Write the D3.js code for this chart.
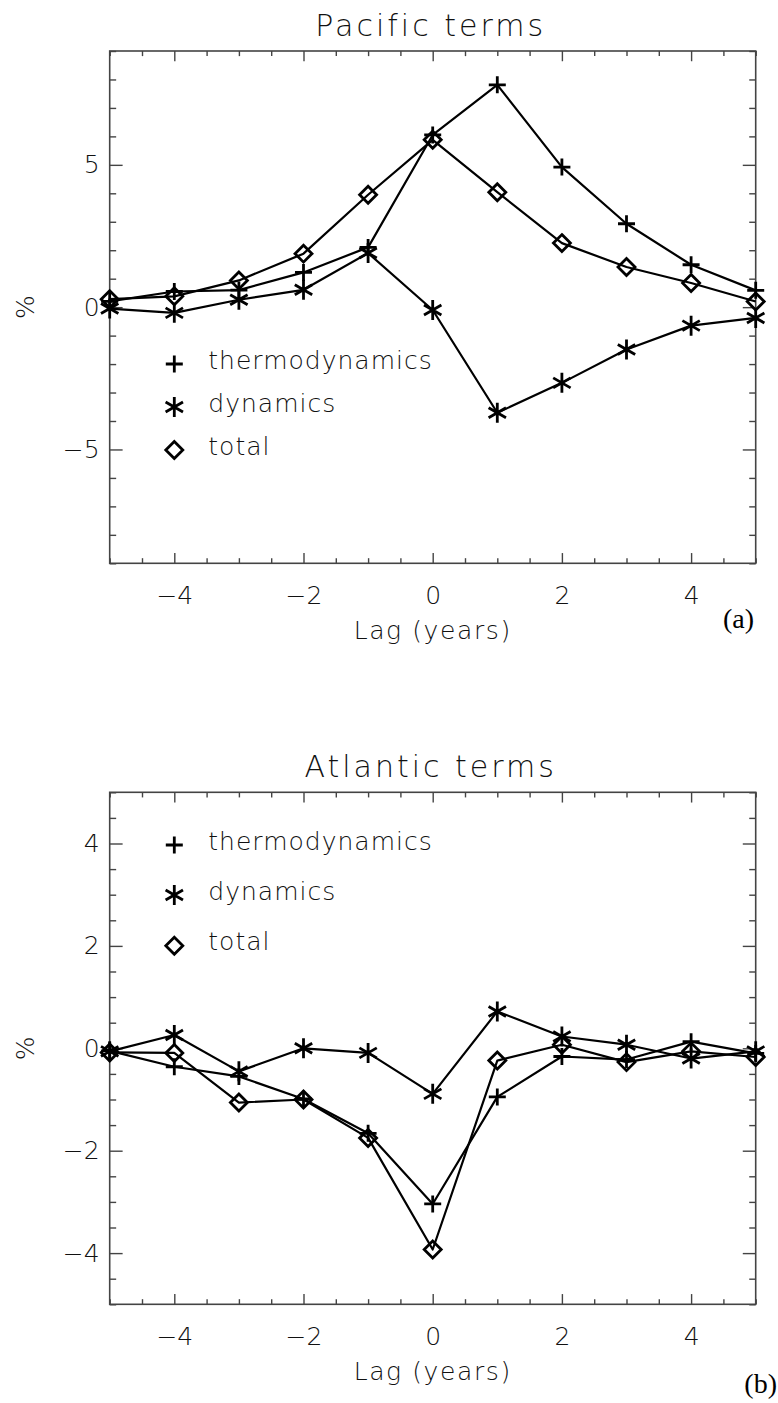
<!DOCTYPE html>
<html>
<head>
<meta charset="utf-8">
<script src="https://cdn.jsdelivr.net/npm/d3@7"></script>
<style>
  html, body { margin: 0; padding: 0; background: #fff; }
  svg { display: block; }
  .lbl { font-family: "DejaVu Sans", "Noto Sans", sans-serif; font-weight: 200; fill: #111; }
  .tag { font-family: "Liberation Serif", "Times New Roman", serif; fill: #000; }
</style>
</head>
<body>
<svg id="chart" width="778" height="1403"></svg>
<script>
// ---------------- data ----------------
const lags = [-5, -4, -3, -2, -1, 0, 1, 2, 3, 4, 5];

const pacificThermo = [0.20, 0.55, 0.60, 1.22, 2.10, 6.05, 7.81, 4.92, 2.93, 1.49, 0.59];
const pacificDyn    = [-0.05, -0.20, 0.26, 0.61, 1.90, -0.10, -3.71, -2.66, -1.49, -0.65, -0.38];
const pacificTotal  = [0.28, 0.38, 0.94, 1.88, 3.95, 5.88, 4.04, 2.25, 1.41, 0.85, 0.20];

const atlanticThermo = [-0.05, -0.36, -0.55, -0.99, -1.66, -3.04, -0.95, -0.16, -0.22, 0.13, -0.10];
const atlanticDyn    = [-0.06, 0.26, -0.45, 0.00, -0.09, -0.89, 0.72, 0.23, 0.07, -0.20, -0.06];
const atlanticTotal  = [-0.08, -0.09, -1.06, -1.00, -1.75, -3.93, -0.24, 0.07, -0.27, -0.06, -0.17];

const seriesNames = ["thermodynamics", "dynamics", "total"];
const seriesSymbols = ["plus", "asterisk", "diamond"];

const xMajorTicks = [-4, -2, 0, 2, 4];
const pacificYMajor = [-5, 0, 5];
const atlanticYMajor = [-4, -2, 0, 2, 4];

// ---------------- layout ----------------
const svg = d3.select("#chart");
const plotLeft = 109.7, plotRight = 755.7;

const panels = [
  { title: "Pacific terms", tag: "(a)", top: 51, bottom: 563.3, yDomain: [-9, 9],
    yMajor: pacificYMajor, yMinorStep: 1,
    series: [pacificThermo, pacificDyn, pacificTotal],
    legendRows: [313, 356, 399], tagX: 754, tagY: 628 },
  { title: "Atlantic terms", tag: "(b)", top: 792.3, bottom: 1304.3, yDomain: [-5, 5],
    yMajor: atlanticYMajor, yMinorStep: 0.5,
    series: [atlanticThermo, atlanticDyn, atlanticTotal],
    legendRows: [52.7, 102.7, 153.4], tagX: 777, tagY: 1393 }
];

const symbolPath = {
  plus: r => `M${-r},0L${r},0M0,${-r}L0,${r}`,
  asterisk: r => {
    const dx = r * 0.87, dy = r * 0.5;
    return `M0,${-r}L0,${r}M${-dx},${-dy}L${dx},${dy}M${-dx},${dy}L${dx},${-dy}`;
  },
  diamond: r => `M0,${-r}L${r},0L0,${r}L${-r},0Z`
};
const symR = { plus: 8.5, asterisk: 10, diamond: 8.5 };

const axisColor = "#444";

panels.forEach(p => {
  const x = d3.scaleLinear().domain([-5, 5]).range([plotLeft, plotRight]);
  const y = d3.scaleLinear().domain(p.yDomain).range([p.bottom, p.top]);
  const W = plotRight - plotLeft, H = p.bottom - p.top;
  const xTickMaj = H * 0.02, xTickMin = H * 0.01;
  const yTickMaj = W * 0.02, yTickMin = W * 0.01;

  const xMinor = d3.range(-5, 5.0001, 0.5).filter(v => !xMajorTicks.includes(v));
  const yMinor = d3.range(p.yDomain[0], p.yDomain[1] + 0.0001, p.yMinorStep)
                   .filter(v => !p.yMajor.includes(v));

  const g = svg.append("g");

  function styleAxis(sel) {
    sel.select(".domain").remove();
    sel.selectAll(".tick line").attr("stroke", axisColor).attr("stroke-width", 1.4);
    sel.selectAll(".tick text").attr("class", "lbl").attr("font-size", 25).attr("fill", "#111");
  }

  // bottom axis (labels + major)
  g.append("g").attr("transform", `translate(0,${p.bottom})`)
    .call(d3.axisBottom(x).tickValues(xMajorTicks).tickSizeInner(-xTickMaj).tickSizeOuter(0).tickPadding(23).tickFormat(d3.format("d")))
    .call(styleAxis);
  g.append("g").attr("transform", `translate(0,${p.bottom})`)
    .call(d3.axisBottom(x).tickValues(xMinor).tickSizeInner(-xTickMin).tickSizeOuter(0).tickFormat(""))
    .call(styleAxis);
  // top axis
  g.append("g").attr("transform", `translate(0,${p.top})`)
    .call(d3.axisTop(x).tickValues(xMajorTicks).tickSizeInner(-xTickMaj).tickSizeOuter(0).tickFormat(""))
    .call(styleAxis);
  g.append("g").attr("transform", `translate(0,${p.top})`)
    .call(d3.axisTop(x).tickValues(xMinor).tickSizeInner(-xTickMin).tickSizeOuter(0).tickFormat(""))
    .call(styleAxis);
  // left axis
  g.append("g").attr("transform", `translate(${plotLeft},0)`)
    .call(d3.axisLeft(y).tickValues(p.yMajor).tickSizeInner(-yTickMaj).tickSizeOuter(0).tickPadding(10).tickFormat(d3.format("d")))
    .call(styleAxis);
  g.append("g").attr("transform", `translate(${plotLeft},0)`)
    .call(d3.axisLeft(y).tickValues(yMinor).tickSizeInner(-yTickMin).tickSizeOuter(0).tickFormat(""))
    .call(styleAxis);
  // right axis
  g.append("g").attr("transform", `translate(${plotRight},0)`)
    .call(d3.axisRight(y).tickValues(p.yMajor).tickSizeInner(-yTickMaj).tickSizeOuter(0).tickFormat(""))
    .call(styleAxis);
  g.append("g").attr("transform", `translate(${plotRight},0)`)
    .call(d3.axisRight(y).tickValues(yMinor).tickSizeInner(-yTickMin).tickSizeOuter(0).tickFormat(""))
    .call(styleAxis);

  // frame
  g.append("rect").attr("x", plotLeft).attr("y", p.top).attr("width", W).attr("height", H)
    .attr("fill", "none").attr("stroke", axisColor).attr("stroke-width", 1.6);

  // title
  g.append("text").attr("class", "lbl").attr("x", (plotLeft + plotRight) / 2 - 2).attr("y", p.top - 15.5)
    .attr("text-anchor", "middle").attr("font-size", 30).attr("letter-spacing", 3).text(p.title);

  // x title
  g.append("text").attr("class", "lbl").attr("x", (plotLeft + plotRight) / 2).attr("y", p.bottom + 76)
    .attr("text-anchor", "middle").attr("font-size", 25).attr("letter-spacing", 1.6).text("Lag (years)");

  // y title
  g.append("text").attr("class", "lbl")
    .attr("transform", `translate(34,${(p.top + p.bottom) / 2}) rotate(-90)`)
    .attr("text-anchor", "middle").attr("font-size", 25).text("%");

  // panel tag
  g.append("text").attr("class", "tag").attr("x", p.tagX).attr("y", p.tagY)
    .attr("text-anchor", "end").attr("font-size", 28).text(p.tag);

  // series
  const line = d3.line().x((d, i) => x(lags[i])).y(d => y(d));
  p.series.forEach((vals, si) => {
    g.append("path").datum(vals).attr("d", line)
      .attr("fill", "none").attr("stroke", "#000").attr("stroke-width", 2.2)
      .attr("stroke-linejoin", "round");
    const sym = seriesSymbols[si];
    g.selectAll(null).data(vals).join("path")
      .attr("transform", (d, i) => `translate(${x(lags[i])},${y(d)})`)
      .attr("d", symbolPath[sym](symR[sym]))
      .attr("fill", "none").attr("stroke", "#000").attr("stroke-width", 2.8);
  });

  // legend
  const legX = x(-4);
  seriesNames.forEach((name, si) => {
    const ly = p.top + p.legendRows[si];
    const sym = seriesSymbols[si];
    g.append("path").attr("transform", `translate(${legX},${ly})`)
      .attr("d", symbolPath[sym](symR[sym]))
      .attr("fill", "none").attr("stroke", "#000").attr("stroke-width", 2.8);
    g.append("text").attr("class", "lbl").attr("x", legX + 34).attr("y", ly + 4.5)
      .attr("font-size", 25).attr("letter-spacing", 1).text(name);
  });
});
</script>
</body>
</html>
